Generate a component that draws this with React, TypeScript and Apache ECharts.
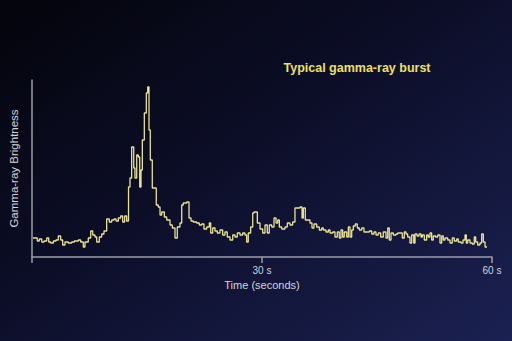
import React, { useEffect, useRef } from "react";
import * as echarts from "echarts";

// Start time (s) of each step of the light curve
const times = [
  0.13, 0.69, 0.95, 1.27, 1.57, 1.92, 2.18, 2.44, 2.78, 3.13, 3.43, 3.74, 4.0, 4.3, 4.73, 5.18, 5.52, 6.04, 6.35, 6.69,
  6.91, 7.34, 7.66, 7.92, 8.22, 8.44, 8.78, 9.09, 9.39, 9.74, 10.08, 10.4, 10.7, 10.96, 11.26, 11.57, 11.83, 12.09, 12.35, 12.59,
  12.78, 13.0, 13.27, 13.43, 13.66, 13.87, 14.05, 14.22, 14.39, 14.65, 14.91, 15.09, 15.26, 15.43, 15.69, 16.21, 16.47, 16.7, 16.92, 17.26,
  17.57, 18.0, 18.3, 18.65, 18.95, 19.3, 19.53, 19.73, 20.18, 20.48, 20.74, 21.04, 21.48, 21.82, 22.13, 22.43, 22.79, 23.13, 23.31, 23.57,
  23.87, 24.17, 24.52, 24.87, 25.17, 25.47, 25.83, 26.18, 26.48, 26.78, 27.13, 27.48, 27.78, 28.0, 28.21, 28.52, 28.79, 28.96, 29.39, 29.74,
  30.09, 30.39, 30.69, 30.95, 31.27, 31.57, 31.83, 32.05, 32.26, 32.57, 33.0, 33.3, 33.65, 34.0, 34.3, 34.96, 35.22, 35.39, 35.65, 36.26,
  36.52, 36.78, 37.13, 37.47, 37.79, 38.0, 38.35, 38.65, 38.87, 39.22, 39.52, 39.82, 40.08, 40.3, 40.52, 40.73, 41.05, 41.26, 41.48, 41.7,
  41.91, 42.17, 42.43, 42.69, 43.0, 43.3, 44.0, 44.31, 44.61, 44.87, 45.17, 45.48, 45.82, 46.17, 46.4, 46.6, 46.83, 47.13, 47.48, 47.7,
  48.3, 48.56, 48.78, 49.0, 49.3, 49.52, 49.79, 49.96, 50.22, 50.48, 50.74, 50.91, 51.17, 51.48, 51.69, 51.91, 52.13, 52.34, 52.65, 52.92,
  53.22, 53.44, 53.65, 53.87, 54.22, 54.52, 54.82, 55.08, 55.4, 55.6, 55.96, 56.22, 56.48, 56.65, 56.83, 57.13, 57.43, 57.69, 57.87, 58.13,
  58.43, 58.65, 58.87, 59.09, 59.35,
];

// Gamma-ray brightness (arbitrary units) for each step
const brightness = [
  19, 16, 18, 15, 16, 19, 15, 14, 16, 17, 21, 17, 12, 15, 14, 15, 16, 17, 15, 10,
  15, 19, 26, 22, 20, 15, 20, 23, 26, 38, 35, 37, 38, 36, 39, 41, 35, 41, 36, 70,
  79, 110, 89, 79, 102, 100, 70, 87, 117, 144, 164, 170, 127, 97, 69, 52, 50, 42, 45, 40,
  37, 32, 29, 19, 30, 34, 52, 54, 55, 39, 36, 35, 34, 32, 33, 28, 30, 34, 24, 29,
  26, 24, 27, 22, 25, 20, 17, 22, 20, 24, 22, 24, 22, 15, 24, 30, 44, 45, 34, 28,
  24, 32, 24, 32, 30, 39, 34, 37, 30, 28, 30, 34, 32, 35, 49, 50, 39, 49, 37, 34,
  29, 33, 30, 27, 29, 27, 25, 27, 24, 25, 20, 25, 19, 27, 20, 25, 20, 30, 20, 27,
  31, 33, 29, 27, 29, 25, 26, 23, 25, 22, 24, 20, 25, 19, 29, 17, 24, 22, 23, 24,
  19, 25, 23, 20, 14, 22, 14, 23, 21, 23, 20, 22, 17, 22, 20, 24, 17, 21, 20, 22,
  14, 21, 17, 19, 17, 14, 19, 16, 18, 15, 14, 17, 22, 14, 17, 14, 13, 20, 15, 12,
  14, 23, 15, 10, 10,
];

const xTicks = [0, 30, 60];
const titleText = "Typical gamma-ray burst";
const xName = "Time (seconds)";
const yName = "Gamma-ray Brightness";

export default function App() {
  const ref = useRef<HTMLDivElement>(null);
  useEffect(() => {
    if (!ref.current) return;
    const chart = echarts.init(ref.current, null, { renderer: "svg" });
    const data = times.map((t, i) => [t, brightness[i]]);
    const font = "'Liberation Sans', Arial, Helvetica, sans-serif";
    chart.setOption({
      animation: false,
      backgroundColor: new echarts.graphic.LinearGradient(0, 0, 1, 1, [
        { offset: 0, color: "#04040b" },
        { offset: 0.45, color: "#0c0e28" },
        { offset: 1, color: "#1b2152" },
      ]),
      grid: { left: 32, right: 20, top: 80, bottom: 84, containLabel: false },
      graphic: [
        {
          type: "text",
          x: 357,
          y: 68,
          style: {
            text: titleText,
            fill: "#efe15a",
            font: `bold 12.5px ${font}`,
            textAlign: "center",
            textVerticalAlign: "middle",
          },
        },
      ],
      xAxis: {
        type: "value",
        min: 0,
        max: 60,
        interval: 30,
        name: xName,
        nameLocation: "middle",
        nameGap: 22,
        nameTextStyle: { color: "#d4d4dc", fontSize: 11, fontFamily: font },
        axisLine: { show: true, lineStyle: { color: "#9c9ca6", width: 1.5 } },
        axisTick: { show: true, length: 6, lineStyle: { color: "#9c9ca6", width: 1.5 } },
        axisLabel: {
          color: "#d4d4dc",
          fontSize: 10,
          fontFamily: font,
          margin: 8,
          formatter: (v: number) => (xTicks.includes(v) && v !== 0 ? `${v} s` : ""),
        },
        splitLine: { show: false },
      },
      yAxis: {
        type: "value",
        min: 0,
        max: 177,
        name: yName,
        nameLocation: "middle",
        nameRotate: 90,
        nameGap: 12,
        nameTextStyle: { color: "#d4d4dc", fontSize: 11.5, fontFamily: font },
        axisLine: { show: true, lineStyle: { color: "#9c9ca6", width: 1.5 } },
        axisTick: { show: false },
        axisLabel: { show: false },
        splitLine: { show: false },
      },
      series: [
        {
          type: "line",
          step: "end",
          data,
          symbol: "none",
          lineStyle: { color: "#e9e291", width: 1.3 },
        },
      ],
    });
    return () => chart.dispose();
  }, []);
  return (
    <div
      ref={ref}
      style={{ position: "absolute", left: 0, top: 0, width: 512, height: 341 }}
    />
  );
}
